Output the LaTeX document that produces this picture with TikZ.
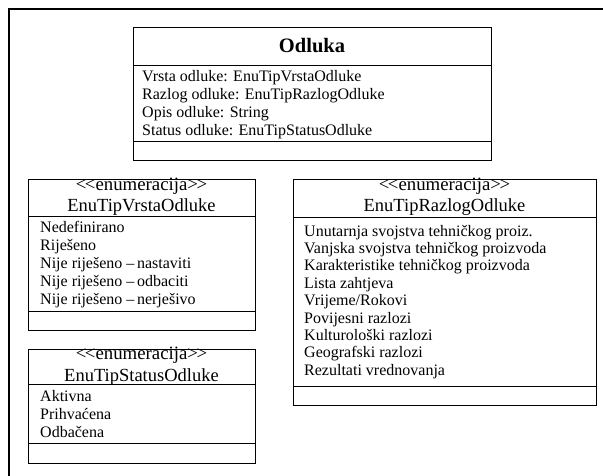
\documentclass[tikz,border=0pt]{standalone}
\usepackage{fontspec}
\setmainfont{Liberation Serif}
\begin{document}
\begin{tikzpicture}[x=1pt,y=-1pt]
\tikzset{
  box/.style={draw=black, line width=0.8pt},
  frameline/.style={draw=black, line width=1.5pt},
  item/.style={anchor=base west, inner sep=0pt, font=\fontsize{16}{18}\selectfont},
  stereo/.style={anchor=base, inner sep=0pt, font=\fontsize{18.8}{20}\selectfont},
  cname/.style={anchor=base, inner sep=0pt, font=\fontsize{18.5}{20}\selectfont},
  title/.style={anchor=center, inner sep=0pt, font=\bfseries\fontsize{20.5}{22}\selectfont},
}
\useasboundingbox (0,0) rectangle (603,475);
% outer frame
\draw[frameline] (9,490) -- (9,9) -- (620,9);

% ---------- Odluka ----------
\draw[box] (133,27) rectangle (491,160);
\draw[box] (133,65) -- (491,65);
\draw[box] (133,141) -- (491,141);
\node[title] (odTitle) at (312,46) {Odluka};
\foreach \t [count=\i] in {Vrsta odluke: EnuTipVrstaOdluke,
                           Razlog odluke: EnuTipRazlogOdluke,
                           Opis odluke: String,
                           Status odluke: EnuTipStatusOdluke}
  \node[item] (od\i) at (142,{81+18.3*(\i-1)}) {\t};

% ---------- EnuTipVrstaOdluke ----------
\draw[box] (28,179) rectangle (255,330);
\draw[box] (28,216) -- (255,216);
\draw[box] (28,311) -- (255,311);
\node[stereo] (vrSt) at (141.5,190) {{<}\kern-1.5pt{<}enumeracija{>}\kern-1.5pt{>}};
\node[cname] (vrName) at (141.5,211.5) {EnuTipVrstaOdluke};
\foreach \t [count=\i] in {Nedefinirano,
                           Riješeno,
                           Nije riješeno –\,nastaviti,
                           Nije riješeno –\,odbaciti,
                           Nije riješeno –\,nerješivo}
  \node[item] (vr\i) at (40,{232.5+18*(\i-1)}) {\t};

% ---------- EnuTipStatusOdluke ----------
\draw[box] (28,349) rectangle (255,463);
\draw[box] (28,384) -- (255,384);
\draw[box] (28,443) -- (255,443);
\node[stereo] (stSt) at (141.5,359.5) {{<}\kern-1.5pt{<}enumeracija{>}\kern-1.5pt{>}};
\node[cname] (stName) at (141.5,381.5) {EnuTipStatusOdluke};
\foreach \t [count=\i] in {Aktivna,
                           Prihvaćena,
                           Odbačena}
  \node[item] (st\i) at (40,{401.5+18*(\i-1)}) {\t};

% ---------- EnuTipRazlogOdluke ----------
\draw[box] (293,179) rectangle (596,405);
\draw[box] (293,217) -- (596,217);
\draw[box] (293,386) -- (596,386);
\node[stereo] (rzSt) at (444.5,190) {{<}\kern-1.5pt{<}enumeracija{>}\kern-1.5pt{>}};
\node[cname] (rzName) at (444.5,211.5) {EnuTipRazlogOdluke};
\foreach \t [count=\i] in {Unutarnja svojstva tehničkog proiz.,
                           Vanjska svojstva tehničkog proizvoda,
                           Karakteristike tehničkog proizvoda,
                           Lista zahtjeva,
                           Vrijeme/Rokovi,
                           Povijesni razlozi,
                           Kulturološki razlozi,
                           Geografski razlozi,
                           Rezultati vrednovanja}
  \node[item] (rz\i) at (304,{236+17.4*(\i-1)}) {\t};
\end{tikzpicture}
\end{document}
